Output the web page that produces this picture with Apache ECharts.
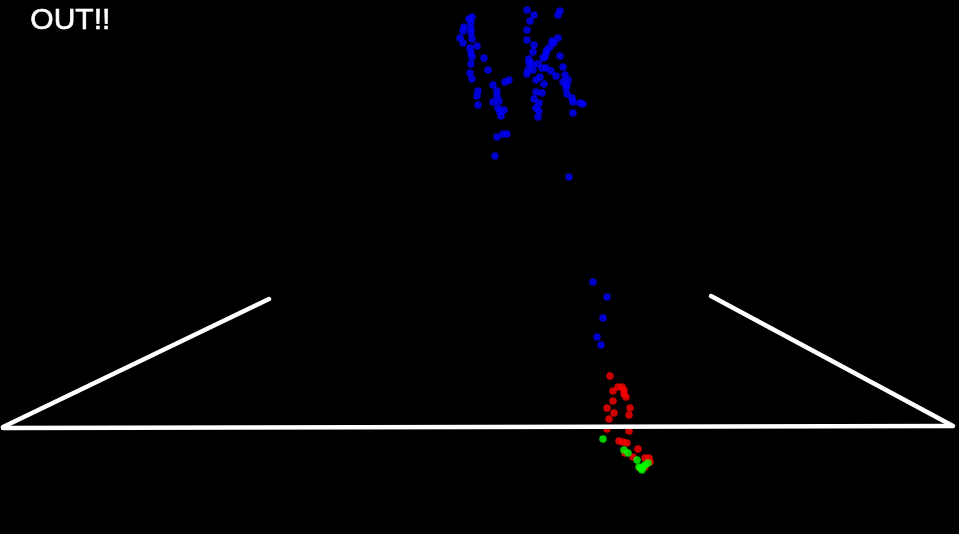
<!DOCTYPE html>
<html>
<head>
<meta charset="utf-8">
<style>html,body{margin:0;padding:0;background:#000;}#c{width:959px;height:534px;}</style>
<script src="https://cdn.jsdelivr.net/npm/echarts@6/dist/echarts.min.js"></script>
</head>
<body>
<div id="c"></div>
<script>
// Ball positions (image pixel coords: x, y from top)
var bluePoints = [
[472,17],[469,19],[471,23],[464,27],[463,31],[471,29],[471,33],[460,38],[463,43],[472,39],
[477,46],[470,48],[471,53],[472,57],[484,58],[471,64],[488,70],[470,73],[472,79],
[478,91],[477,96],[478,105],[493,85],[497,91],[497,96],[499,101],[493,102],[498,108],
[500,112],[504,110],[501,116],[505,82],[509,80],[503,134],[507,134],[497,137],[495,156],
[527,10],[534,15],[530,21],[560,11],[558,15],[527,30],[527,40],[534,45],[558,38],[552,41],
[554,43],[550,47],[547,50],[533,52],[546,53],[560,56],[529,59],[543,58],
[529,63],[532,64],[538,64],[545,57],[563,67],[528,70],[527,74],[533,70],[542,68],[546,68],
[551,71],[556,76],[540,77],[536,80],[544,84],[565,75],[568,80],[563,82],[567,85],[566,88],
[567,94],[536,92],[542,93],[534,99],[539,103],[536,108],[539,111],[538,117],[572,98],
[573,102],[580,103],[583,104],[573,113],[569,177],
[593,282],[607,297],[603,318],[597,337],[601,345]
];
var redPoints = [
[610,376],[618,387],[622,387],[624,390],[624,394],[626,397],[613,391],[613,401],[607,408],
[630,408],[614,413],[629,415],[609,419],[607,429],[629,431],[619,441],[623,442],[627,443],
[625,453],[638,449],[633,457],[645,458],[649,458],[650,462],[640,468],[645,467]
];
var greenPoints = [
[603,439],[624,450],[628,453],[637,460],[642,470],[643,467],[645,465],[648,463],[641,468],[639,467]
];
// Court lines (image pixel coords)
var leftLine = [[3,427],[269,299]];
var baseLine = [[3,428],[952,426]];
var rightLine = [[711,296],[953,426]];
var label = 'OUT!!';

var chart = echarts.init(document.getElementById('c'), null, {renderer:'canvas'});
function lineSeries(d){
  return {type:'line', data:d, symbol:'none', z:5, animation:false,
    lineStyle:{color:'#ffffff', width:4.5, cap:'round'}};
}
function dotSeries(d,c,z){
  return {type:'scatter', data:d, symbol:'circle', symbolSize:7.5, z:z, animation:false,
    itemStyle:{color:c}};
}
chart.setOption({
  backgroundColor:'#000000',
  animation:false,
  grid:{left:0,right:0,top:0,bottom:0},
  xAxis:{type:'value',min:0,max:959,show:false},
  yAxis:{type:'value',min:0,max:534,inverse:true,show:false},
  graphic:[{type:'text', left:30, top:5, style:{text:label, fill:'#ffffff',
    stroke:'#ffffff', lineWidth:0.6,
    font:'30px "Liberation Sans", Arial, sans-serif'}}],
  series:[
    dotSeries(bluePoints,'#0000ff',2),
    dotSeries(redPoints,'#ff0000',3),
    dotSeries(greenPoints,'#00ff00',4),
    lineSeries(leftLine), lineSeries(baseLine), lineSeries(rightLine)
  ]
});
</script>
</body>
</html>
